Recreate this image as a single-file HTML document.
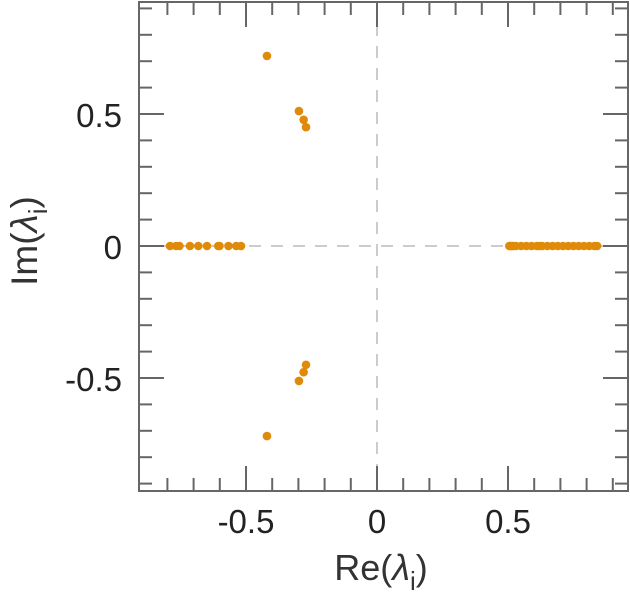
<!DOCTYPE html>
<html><head><meta charset="utf-8"><style>
body{margin:0;background:#fff;}
svg{display:block;font-family:"Liberation Sans",sans-serif;}
</style></head><body>
<svg id="chart" width="630" height="600" xmlns="http://www.w3.org/2000/svg"></svg>
<script>
const realVals=[-0.79,-0.767,-0.754,-0.714,-0.682,-0.649,-0.606,-0.601,-0.567,-0.537,-0.519,
-0.42,-0.298,-0.28,-0.271,-0.42,-0.298,-0.28,-0.271,
0.505,0.51,0.515,0.52,0.53,0.55,0.57,0.59,0.61,0.62,0.63,0.65,0.67,0.69,0.71,0.73,0.75,0.77,0.79,0.81,0.83,0.84];
const imagVals=[0,0,0,0,0,0,0,0,0,0,0,
0.72,0.511,0.478,0.45,-0.72,-0.511,-0.478,-0.45,
0,0,0,0,0,0,0,0,0,0,0,0,0,0,0,0,0,0,0,0,0,0];
const xTicks=[-0.5,0,0.5];
const xTickLabels=["-0.5","0","0.5"];
const yTicks=[-0.5,0,0.5];
const yTickLabels=["-0.5","0","0.5"];
const L=139,R=628,T=2,B=491;
const xs=v=>377+v*262;
const ys=v=>246-v*264;
const svg=document.getElementById('chart');
const NS="http://www.w3.org/2000/svg";
function mk(tag,attrs){const e=document.createElementNS(NS,tag);for(const k in attrs)e.setAttribute(k,attrs[k]);svg.appendChild(e);return e;}
let e;
e=mk('line',{x1:xs(0),x2:xs(0),y1:T,y2:B,stroke:'#ccc','stroke-width':2,'stroke-dasharray':'12,10'});


e=mk('line',{x1:L,x2:R,y1:ys(0),y2:ys(0),stroke:'#ccc','stroke-width':2,'stroke-dasharray':'12,10'});


for(let i=-8;i<=9;i++){const v=i/10;const x=xs(v);if(x<L||x>R)continue;const major=(i%5===0);const len=major?25:13;
 e=mk('line',{x1:x,x2:x,y1:B,y2:B-len,stroke:'#666','stroke-width':2});
 
 
 e=mk('line',{x1:x,x2:x,y1:T,y2:T+len,stroke:'#666','stroke-width':2});
 
 }
for(let i=-9;i<=9;i++){const v=i/10;const y=ys(v);if(y<T||y>B)continue;const major=(i%5===0);const len=major?25:13;
 e=mk('line',{x1:L,x2:L+len,y1:y,y2:y,stroke:'#666','stroke-width':2});
 
 
 e=mk('line',{x1:R,x2:R-len,y1:y,y2:y,stroke:'#666','stroke-width':2});
 
 }
e=mk('rect',{x:L,y:T,width:R-L,height:B-T,fill:'none',stroke:'#666','stroke-width':2});


xTicks.forEach((v,i)=>{e=mk('text',{x:xs(v),y:533,'text-anchor':'middle','font-size':33,fill:'#222'});e.textContent=xTickLabels[i];
 
 });
yTicks.forEach((v,i)=>{e=mk('text',{x:122,y:ys(v)+13,'text-anchor':'end','font-size':33,fill:'#222'});e.textContent=yTickLabels[i];
 
 });
e=mk('text',{x:381,y:580,'text-anchor':'middle','font-size':36,fill:'#333'});
e.innerHTML='Re(<tspan font-style="italic">λ</tspan><tspan dy="10" font-size="26">i</tspan><tspan dy="-10">)</tspan>';


e=mk('text',{x:0,y:0,'text-anchor':'middle','font-size':37,fill:'#333',transform:'translate(37,241) rotate(-90)'});
e.innerHTML='Im(<tspan font-style="italic">λ</tspan><tspan dy="10" font-size="26">i</tspan><tspan dy="-10">)</tspan>';


realVals.forEach((v,i)=>{e=mk('circle',{cx:xs(v),cy:ys(imagVals[i]),r:4.3,fill:'#e08a0a'});
 
 });
</script>
</body></html>
